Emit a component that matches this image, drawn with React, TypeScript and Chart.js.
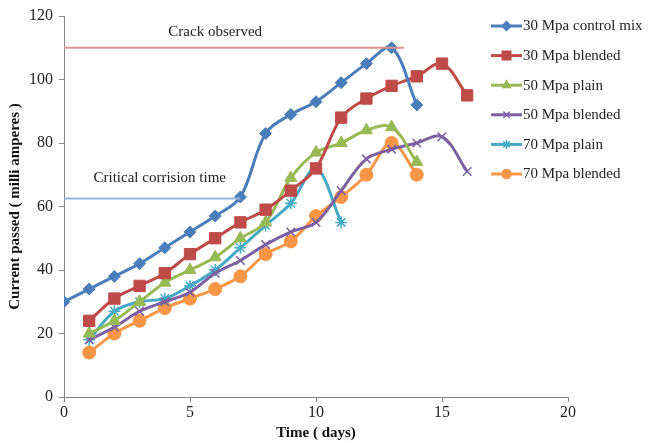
import React, { useEffect, useRef } from "react";
import { Chart, registerables } from "chart.js";
import { drawPoint } from "chart.js/helpers";

Chart.register(...registerables);

const seriesNames = [
  "30 Mpa control mix",
  "30 Mpa blended",
  "50 Mpa plain",
  "50 Mpa blended",
  "70 Mpa plain",
  "70 Mpa blended",
];

const daysControl = [0, 1, 2, 3, 4, 5, 6, 7, 8, 9, 10, 11, 12, 13, 14];
const control30 = [30, 34, 38, 42, 47, 52, 57, 63, 83, 89, 93, 99, 105, 110, 92];

const days16 = [1, 2, 3, 4, 5, 6, 7, 8, 9, 10, 11, 12, 13, 14, 15, 16];
const blended30 = [24, 31, 35, 39, 45, 50, 55, 59, 65, 72, 88, 94, 98, 101, 105, 95];

const days14 = [1, 2, 3, 4, 5, 6, 7, 8, 9, 10, 11, 12, 13, 14];
const plain50 = [20, 24, 30, 36, 40, 44, 50, 55, 69, 77, 80, 84, 85, 74];

const blended50 = [18, 22, 27, 30, 33, 39, 43, 48, 52, 55, 65, 75, 78, 80, 82, 71];

const days11 = [1, 2, 3, 4, 5, 6, 7, 8, 9, 10, 11];
const plain70 = [18, 27, 30, 31, 35, 40, 47, 54, 61, 72, 55];

const blended70 = [14, 20, 24, 28, 31, 34, 38, 45, 49, 57, 63, 70, 80, 70];

const crackLevel = 110;
const crackDays = [0, 13.5];
const criticalLevel = 62.5;
const criticalDays = [0, 7];

const xTicks = [0, 5, 10, 15, 20];
const yTicks = [0, 20, 40, 60, 80, 100, 120];

const colors = ["#4A7EBB", "#BE4B48", "#98B954", "#7D60A0", "#46AAC5", "#F79646"];
const styles = ["rectRot", "rect", "triangle", "crossRot", "star", "circle"];
const radii = [6, 8, 7, 6, 6, 6.5];

const zip = (xs: number[], ys: number[]) => ys.map((y, i) => ({ x: xs[i], y }));

const FONT = "'Liberation Serif', 'Times New Roman', serif";

export default function App() {
  const ref = useRef<HTMLCanvasElement | null>(null);

  useEffect(() => {
    document.body.style.margin = "0";
    const canvas = ref.current;
    if (!canvas) return;

    const seriesData = [
      zip(daysControl, control30),
      zip(days16, blended30),
      zip(days14, plain50),
      zip(days16, blended50),
      zip(days11, plain70),
      zip(days14, blended70),
    ];

    const datasets: any[] = [
      {
        label: "Crack observed",
        data: crackDays.map((d) => ({ x: d, y: crackLevel })),
        borderColor: "#D99694",
        borderWidth: 2,
        pointRadius: 0,
      },
      {
        label: "Critical corrision time",
        data: criticalDays.map((d) => ({ x: d, y: criticalLevel })),
        borderColor: "#95B3D7",
        borderWidth: 2,
        pointRadius: 0,
      },
    ];
    seriesNames.forEach((name, i) => {
      datasets.push({
        label: name,
        data: seriesData[i],
        borderColor: colors[i],
        backgroundColor: colors[i],
        pointBackgroundColor: colors[i],
        pointBorderColor: colors[i],
        pointStyle: styles[i],
        pointRadius: radii[i],
        pointBorderWidth: styles[i] === "crossRot" || styles[i] === "star" ? 1.5 : 1,
        borderWidth: 3,
        tension: 0.35,
      });
    });

    const annotPlugin = {
      id: "annot",
      afterDatasetsDraw(chart: any) {
        const ctx = chart.ctx;
        const xs = chart.scales.x;
        const ys = chart.scales.y;
        ctx.save();
        ctx.font = `15px ${FONT}`;
        ctx.fillStyle = "#222";
        ctx.textAlign = "center";
        ctx.textBaseline = "middle";
        ctx.fillText("Crack observed", xs.getPixelForValue(6.0), ys.getPixelForValue(115));
        ctx.fillText("Critical corrision time", xs.getPixelForValue(3.8), ys.getPixelForValue(69));
        ctx.restore();
      },
      afterDraw(chart: any) {
        const ctx = chart.ctx;
        ctx.save();
        const rowY0 = 26;
        const rowStep = 29.6;
        seriesNames.forEach((name, i) => {
          const y = rowY0 + i * rowStep;
          ctx.strokeStyle = colors[i];
          ctx.lineWidth = 3;
          ctx.beginPath();
          ctx.moveTo(491, y);
          ctx.lineTo(522, y);
          ctx.stroke();
          ctx.fillStyle = colors[i];
          ctx.strokeStyle = colors[i];
          ctx.lineWidth = 1.5;
          drawPoint(ctx, { pointStyle: styles[i], radius: i === 1 ? 6 : 4.5, rotation: 0, borderWidth: 1.5 } as any, 506.5, y);
          ctx.fillStyle = "#222";
          ctx.font = `15px ${FONT}`;
          ctx.textAlign = "left";
          ctx.textBaseline = "middle";
          ctx.fillText(name, 523, y + 0.5);
        });
        ctx.restore();
      },
    };

    const chart = new Chart(canvas, {
      type: "line",
      data: { datasets },
      options: {
        animation: false,
        responsive: false,
        devicePixelRatio: 1,
        layout: { padding: { top: 16, right: 81, left: 0, bottom: 0 } },
        plugins: {
          legend: { display: false },
          tooltip: { enabled: false },
        },
        scales: {
          x: {
            type: "linear",
            min: 0,
            max: 20,
            afterFit: (s: any) => {
              s.height = 46;
            },
            afterBuildTicks: (s: any) => {
              s.ticks = xTicks.map((v) => ({ value: v }));
            },
            ticks: {
              font: { family: FONT, size: 16 },
              color: "#222",
              padding: 1,
              maxRotation: 0,
            },
            grid: {
              drawOnChartArea: false,
              drawTicks: true,
              tickLength: 5,
              color: "#868686",
            },
            border: { color: "#868686", width: 1 },
            title: {
              display: true,
              text: "Time ( days)",
              font: { family: FONT, size: 15, weight: "bold" },
              color: "#111",
              padding: { top: 0, bottom: 1 },
            },
          },
          y: {
            type: "linear",
            min: 0,
            max: 120,
            afterFit: (s: any) => {
              s.width = 64;
            },
            afterBuildTicks: (s: any) => {
              s.ticks = yTicks.map((v) => ({ value: v }));
            },
            ticks: {
              font: { family: FONT, size: 16 },
              color: "#222",
              padding: 6,
            },
            grid: {
              drawOnChartArea: false,
              drawTicks: true,
              tickLength: 5,
              color: "#868686",
            },
            border: { color: "#868686", width: 1 },
            title: {
              display: true,
              text: "Current passed ( milli amperes )",
              font: { family: FONT, size: 15, weight: "bold" },
              color: "#111",
              padding: { top: 6, bottom: 0 },
            },
          },
        },
      } as any,
      plugins: [annotPlugin],
    });

    return () => chart.destroy();
  }, []);

  return (
    <div style={{ width: 649, height: 443, background: "#fff" }}>
      <canvas ref={ref} width={649} height={443} style={{ display: "block" }} />
    </div>
  );
}
